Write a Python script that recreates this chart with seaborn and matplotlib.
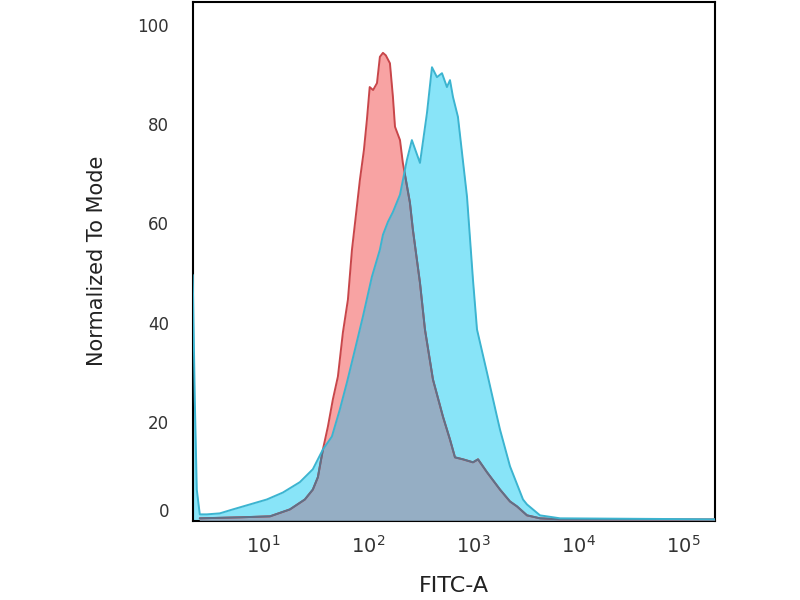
import matplotlib
matplotlib.use("Agg")
import matplotlib.pyplot as plt
from matplotlib.ticker import FixedLocator, FixedFormatter, NullLocator
import pandas as pd
import seaborn as sns

# Isotype control (red) - FITC intensity vs % of mode
control_fitc = [2.51, 6.04, 11.7, 18.1, 25.1, 29.9, 33.4, 37.3, 41.6, 46.4, 51.8, 57.8,
                64.5, 70.5, 76.9, 83.9, 91.6, 97.8, 104, 112, 122, 130, 139, 148, 162,
                173, 181, 202, 215, 251, 268, 313, 349, 416, 518, 604, 674, 803, 1000,
                1117, 1359, 1808, 2250, 2625, 3266, 4345, 6745, 202000]
control_mode = [0.5, 0.7, 0.9, 2.3, 4.3, 6.3, 8.8, 14.4, 19.0, 24.5, 29.1, 38.0,
                44.6, 54.7, 61.7, 68.8, 74.8, 80.9, 87.5, 86.9, 88.3, 93.6, 94.4, 93.9, 92.3,
                85.5, 79.5, 76.8, 72.2, 64.2, 58.7, 48.0, 38.6, 28.5, 21.0, 16.4, 12.8, 12.4, 11.8,
                12.4, 9.8, 6.3, 3.9, 2.9, 1.1, 0.5, 0.3, 0.3]

# Stained sample (blue)
sample_fitc = [2.15, 2.25, 2.35, 2.51, 2.93, 3.89, 5.18, 7.52, 10.9, 15.5, 22.5, 29.9,
               37.3, 45.4, 54.1, 63.1, 75.2, 89.6, 109, 130, 139, 155, 173, 202, 235,
               262, 313, 365, 407, 454, 507, 565, 604, 645, 719, 877, 1000, 1092, 1359,
               1693, 1808, 2250, 2994, 3266, 4345, 6745, 202000]
sample_mode = [49.6, 24.5, 6.3, 1.3, 1.3, 1.5, 2.3, 3.3, 4.3, 5.7, 7.8, 10.4,
               14.4, 17.0, 22.5, 27.9, 34.5, 41.2, 49.2, 54.7, 57.7, 60.3, 62.3, 65.8, 72.8,
               76.8, 72.2, 82.3, 91.5, 89.5, 90.3, 87.5, 88.9, 85.5, 81.5, 65.4, 48.6, 38.6, 29.9,
               21.0, 18.4, 11.0, 4.3, 3.3, 1.1, 0.5, 0.3]

x_ticks = [10, 100, 1000, 10000, 100000]
x_ticklabels = [r"$10^{1}$", r"$10^{2}$", r"$10^{3}$", r"$10^{4}$", r"$10^{5}$"]
y_ticks = [0, 20, 40, 60, 80, 100]

df_ctrl = pd.DataFrame({"FITC-A": control_fitc, "mode": control_mode})
df_smp = pd.DataFrame({"FITC-A": sample_fitc, "mode": sample_mode})

sns.set_theme(style="white")
plt.rcParams['font.family'] = ['DejaVu Sans']
plt.rcParams['mathtext.default'] = 'regular'

fig = plt.figure(figsize=(8, 6), dpi=100)
ax = fig.add_axes([0.241, 0.132, 0.653, 0.865])
ax.set_xscale("log")

# fills
red_fill = ax.fill_between(df_ctrl["FITC-A"], 0, df_ctrl["mode"], color="#f8a3a3", lw=0, zorder=1)
blue_fill = ax.fill_between(df_smp["FITC-A"], 0, df_smp["mode"], color="#88e4f8", lw=0, zorder=2)
overlap = ax.fill_between(df_smp["FITC-A"], 0, df_smp["mode"], color="#95aec4", lw=0, zorder=3)
overlap.set_clip_path(red_fill.get_paths()[0], ax.transData)

# outlines
sns.lineplot(data=df_ctrl, x="FITC-A", y="mode", sort=False, estimator=None,
             color="#c8464a", lw=1.4, ax=ax, zorder=4)
sns.lineplot(data=df_ctrl, x="FITC-A", y="mode", sort=False, estimator=None,
             color="#5d7189", lw=1.4, ax=ax, zorder=5)
ax.lines[-1].set_clip_path(blue_fill.get_paths()[0], ax.transData)
sns.lineplot(data=df_smp, x="FITC-A", y="mode", sort=False, estimator=None,
             color="#3cb4d0", lw=1.4, ax=ax, zorder=6)

ax.set_xlim(2.154, 2.02e5)
ax.set_ylim(0, 104.7)
ax.xaxis.set_major_locator(FixedLocator(x_ticks))
ax.xaxis.set_major_formatter(FixedFormatter(x_ticklabels))
ax.xaxis.set_minor_locator(NullLocator())
ax.set_yticks(y_ticks)
ax.tick_params(axis="both", length=0, labelcolor="#333333")
ax.tick_params(axis="y", pad=17, labelsize=12)
ax.tick_params(axis="x", pad=10, labelsize=14)
for lab in ax.get_yticklabels():
    if lab.get_text() == "0":
        lab.set_va("bottom")

ax.set_xlabel("FITC-A", fontsize=16, color="#222222", labelpad=14)
ax.set_ylabel("Normalized To Mode", fontsize=15, color="#222222", labelpad=22)

for sp in ax.spines.values():
    sp.set_visible(True)
    sp.set_color("black")
    sp.set_linewidth(1.5)

fig.savefig("out.png", dpi=100)
